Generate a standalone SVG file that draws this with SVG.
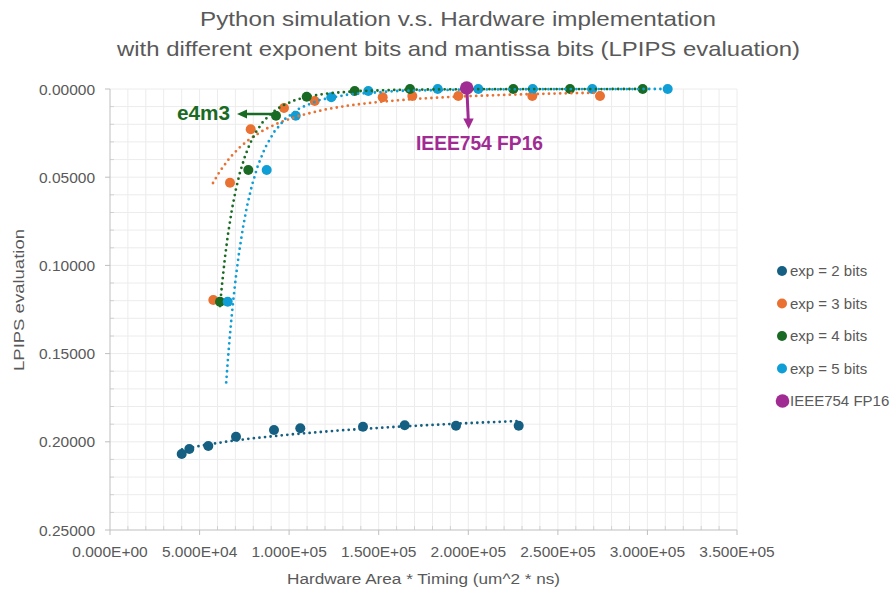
<svg xmlns="http://www.w3.org/2000/svg" width="890" height="592" viewBox="0 0 890 592">
<style>
text{font-family:"Liberation Sans",Arial,sans-serif;fill:#595959}
.title{font-size:21px}
.tick{font-size:15.5px}
.axt{font-size:15.5px}
.leg{font-size:15px}
.grid{stroke:#ececec;stroke-width:1;fill:none}
.axis{stroke:#bfbfbf;stroke-width:1;fill:none}
.trend{fill:none;stroke-width:2.8;stroke-linecap:round;stroke-linejoin:round;stroke-dasharray:0 5.6}
.s2{fill:#156082}.s3{fill:#E97132}.s4{fill:#196B24}.s5{fill:#0F9ED5}.sp{fill:#A02B93}
</style>
<rect width="890" height="592" fill="#ffffff"/>
<g id="title">
<text class="title" x="458" y="26" text-anchor="middle" textLength="516" lengthAdjust="spacingAndGlyphs">Python simulation v.s. Hardware implementation</text>
<text class="title" x="458.5" y="56" text-anchor="middle" textLength="683" lengthAdjust="spacingAndGlyphs">with different exponent bits and mantissa bits (LPIPS evaluation)</text>
</g>
<g id="gridlines">
<path class="grid" d="M127.9,89V530M145.8,89V530M163.7,89V530M181.7,89V530M199.6,89V530M217.5,89V530M235.4,89V530M253.3,89V530M271.2,89V530M289.1,89V530M307.1,89V530M325,89V530M342.9,89V530M360.8,89V530M378.7,89V530M396.6,89V530M414.5,89V530M432.5,89V530M450.4,89V530M468.3,89V530M486.2,89V530M504.1,89V530M522,89V530M539.9,89V530M557.9,89V530M575.8,89V530M593.7,89V530M611.6,89V530M629.5,89V530M647.4,89V530M665.3,89V530M683.3,89V530M701.2,89V530M719.1,89V530M737,89V530"/>
<path class="grid" d="M110,89H737M110,106.6H737M110,124.3H737M110,141.9H737M110,159.6H737M110,177.2H737M110,194.8H737M110,212.5H737M110,230.1H737M110,247.8H737M110,265.4H737M110,283H737M110,300.7H737M110,318.3H737M110,336H737M110,353.6H737M110,371.2H737M110,388.9H737M110,406.5H737M110,424.2H737M110,441.8H737M110,459.4H737M110,477.1H737M110,494.7H737M110,512.4H737"/>
</g>
<g id="axes">
<path class="axis" d="M110,89V530H737"/>
<path class="axis" d="M110,530v5M199.6,530v5M289.1,530v5M378.7,530v5M468.3,530v5M557.9,530v5M647.4,530v5M737,530v5M105,89h5M105,177.2h5M105,265.4h5M105,353.6h5M105,441.8h5M105,530h5"/>
<path class="axis" stroke-opacity="0.6" d="M127.9,530v-4M145.8,530v-4M163.7,530v-4M181.7,530v-4M217.5,530v-4M235.4,530v-4M253.3,530v-4M271.2,530v-4M307.1,530v-4M325,530v-4M342.9,530v-4M360.8,530v-4M396.6,530v-4M414.5,530v-4M432.5,530v-4M450.4,530v-4M486.2,530v-4M504.1,530v-4M522,530v-4M539.9,530v-4M575.8,530v-4M593.7,530v-4M611.6,530v-4M629.5,530v-4M665.3,530v-4M683.3,530v-4M701.2,530v-4M719.1,530v-4M110,106.6h4M110,124.3h4M110,141.9h4M110,159.6h4M110,194.8h4M110,212.5h4M110,230.1h4M110,247.8h4M110,283h4M110,300.7h4M110,318.3h4M110,336h4M110,371.2h4M110,388.9h4M110,406.5h4M110,424.2h4M110,459.4h4M110,477.1h4M110,494.7h4M110,512.4h4"/>
<g class="tick" text-anchor="end">
<text x="95" y="94.5">0.00000</text>
<text x="95" y="182.7">0.05000</text>
<text x="95" y="270.9">0.10000</text>
<text x="95" y="359.1">0.15000</text>
<text x="95" y="447.3">0.20000</text>
<text x="95" y="535.5">0.25000</text>
</g>
<g class="tick" text-anchor="middle">
<text x="110" y="556.5">0.000E+00</text>
<text x="199.6" y="556.5">5.000E+04</text>
<text x="289.1" y="556.5">1.000E+05</text>
<text x="378.7" y="556.5">1.500E+05</text>
<text x="468.3" y="556.5">2.000E+05</text>
<text x="557.9" y="556.5">2.500E+05</text>
<text x="647.4" y="556.5">3.000E+05</text>
<text x="737" y="556.5">3.500E+05</text>
</g>
<text class="axt" x="423.5" y="584" text-anchor="middle" textLength="273" lengthAdjust="spacingAndGlyphs">Hardware Area * Timing (um^2 * ns)</text>
<text class="axt" transform="translate(24,300) rotate(-90)" text-anchor="middle" textLength="142" lengthAdjust="spacingAndGlyphs">LPIPS evaluation</text>
</g>
<g id="series-exp2">
<circle class="s2" cx="181.7" cy="454" r="5"/><circle class="s2" cx="189.3" cy="449" r="5"/><circle class="s2" cx="208.3" cy="446" r="5"/><circle class="s2" cx="236" cy="436.7" r="5"/><circle class="s2" cx="274" cy="430" r="5"/><circle class="s2" cx="300.3" cy="428.3" r="5"/><circle class="s2" cx="363" cy="426.7" r="5"/><circle class="s2" cx="404.7" cy="425.3" r="5"/><circle class="s2" cx="456" cy="425.7" r="5"/><circle class="s2" cx="518.7" cy="425.7" r="5"/>
</g>
<g id="series-exp3">
<circle class="s3" cx="213.3" cy="300" r="5"/><circle class="s3" cx="230" cy="182.7" r="5"/><circle class="s3" cx="250.7" cy="129.3" r="5"/><circle class="s3" cx="284" cy="108" r="5"/><circle class="s3" cx="314.7" cy="101" r="5"/><circle class="s3" cx="382.7" cy="97.3" r="5"/><circle class="s3" cx="412.3" cy="96" r="5"/><circle class="s3" cx="458.3" cy="96" r="5"/><circle class="s3" cx="532.3" cy="96" r="5"/><circle class="s3" cx="600" cy="96" r="5"/>
</g>
<g id="series-exp4">
<circle class="s4" cx="220" cy="301.7" r="5"/><circle class="s4" cx="248.3" cy="170" r="5"/><circle class="s4" cx="276" cy="115.7" r="5"/><circle class="s4" cx="306.7" cy="96.7" r="5"/><circle class="s4" cx="354.7" cy="91" r="5"/><circle class="s4" cx="410" cy="89" r="5"/><circle class="s4" cx="513.3" cy="89" r="5"/><circle class="s4" cx="570" cy="89" r="5"/><circle class="s4" cx="642.7" cy="89" r="5"/>
</g>
<g id="series-exp5">
<circle class="s5" cx="227.7" cy="301.7" r="5"/><circle class="s5" cx="266.7" cy="170" r="5"/><circle class="s5" cx="295.7" cy="115.7" r="5"/><circle class="s5" cx="331.3" cy="97.3" r="5"/><circle class="s5" cx="368.3" cy="91" r="5"/><circle class="s5" cx="437.7" cy="89" r="5"/><circle class="s5" cx="478.3" cy="89" r="5"/><circle class="s5" cx="532.7" cy="89" r="5"/><circle class="s5" cx="592.3" cy="89" r="5"/><circle class="s5" cx="667.7" cy="89" r="5"/>
</g>
<g id="connectors">
<path class="trend" stroke="#156082" d="M182,449.5L200,445.9L225,441.8L250,438.6L290,434.5L340,430.4L400,426.6L460,423.5L518,421"/>
<path class="trend" stroke="#E97132" d="M213,183L220,171.1L230,157.5L240,147.1L250,138.8L265,129.3L280,122.3L300,115.5L325,109.5L350,105.3L380,101.8L420,98.6L460,96.5L510,94.7L560,93.4L600,92.7"/>
<path class="trend" stroke="#196B24" d="M220,306L222,284.7L225,257.2L228,234.2L232,209L236,188.8L240,172.4L245,156.2L250,143.6L256,132L263,121.8L272,112.7L282,105.8L295,100.1L310,96.1L330,93.1L360,91L400,89.8L450,89.3L520,89.1L643,89"/>
<path class="trend" stroke="#0F9ED5" d="M226.2,382.4L227,371.6L228,358.5L229.5,340.1L231,323.3L233.3,300L236,276L239,253.1L243,227.4L247,206.3L252,185.1L258,165.3L265,148L274,132.1L285,119L300,108L320,99.9L350,94.2L400,90.8L470,89.5L560,89.1L668,89"/>
<path fill="none" stroke="#196B24" stroke-width="2.5" d="M274,114H245"/>
<polygon fill="#196B24" points="237,114 247,109.5 247,118.5"/>
<path fill="none" stroke="#A02B93" stroke-width="3" d="M467,92L468.3,120"/>
<polygon fill="#A02B93" points="468.7,129 463.3,118.5 473.7,118.5"/>
</g>
<g id="series-fp16">
<circle class="sp" cx="466.7" cy="88" r="6.8"/>
</g>
<g id="label-e4m3">
<text x="177" y="120" font-size="21" font-weight="bold" style="fill:#196B24" textLength="53" lengthAdjust="spacingAndGlyphs">e4m3</text>
</g>
<g id="label-fp16">
<text x="416" y="149.5" font-size="21" font-weight="bold" style="fill:#A02B93" textLength="127" lengthAdjust="spacingAndGlyphs">IEEE754 FP16</text>
</g>
<g id="legend">
<circle class="s2" cx="782" cy="271" r="5"/><text class="leg" x="790" y="276.3">exp = 2 bits</text>
<circle class="s3" cx="782" cy="303.5" r="5"/><text class="leg" x="790" y="308.8">exp = 3 bits</text>
<circle class="s4" cx="782" cy="336" r="5"/><text class="leg" x="790" y="341.3">exp = 4 bits</text>
<circle class="s5" cx="782" cy="368.5" r="5"/><text class="leg" x="790" y="373.8">exp = 5 bits</text>
<circle class="sp" cx="782.5" cy="401" r="6.8"/><text class="leg" x="790" y="406.3">IEEE754 FP16</text>
</g>
</svg>
